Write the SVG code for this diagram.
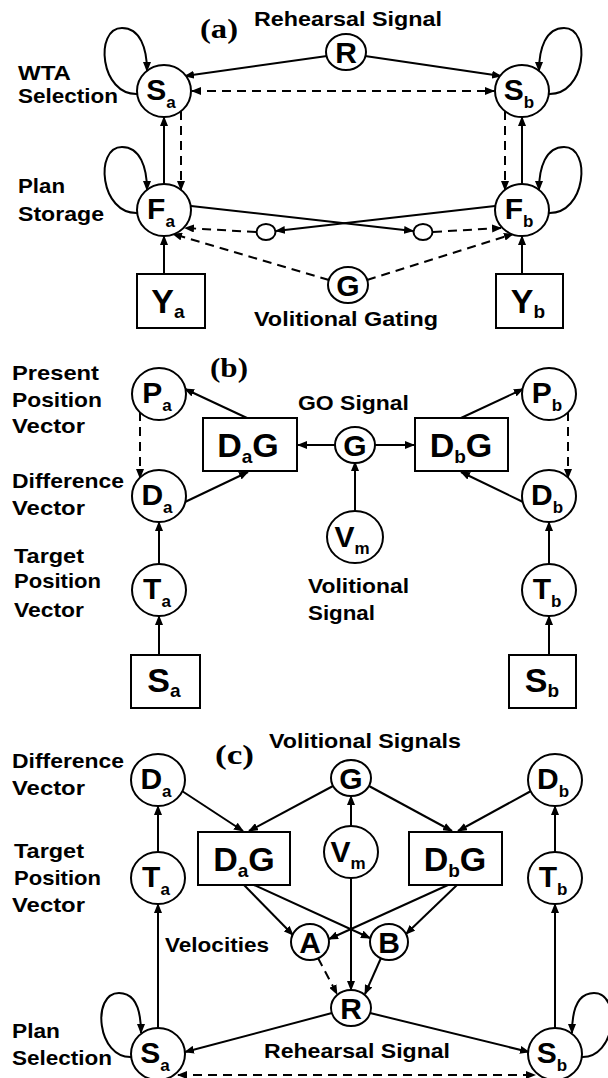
<svg xmlns="http://www.w3.org/2000/svg" width="608" height="1078" viewBox="0 0 608 1078">
<defs>
<style>
.n{fill:#fff;stroke:#000;stroke-width:2}
.c{fill:none;stroke:#000;stroke-width:2}
.d{stroke-dasharray:9,6}
.e{marker-end:url(#ah)}
.b{marker-start:url(#ah);marker-end:url(#ah)}
text{font-family:"Liberation Sans",Arial,sans-serif;font-weight:bold;fill:#000}
.lb{font-size:21px}
.nt{font-size:30px;text-anchor:middle}
.bt{font-size:34px;text-anchor:middle}
.sb{font-size:17px}
.sb2{font-size:19px}
.pl{font-family:"Liberation Serif","Times New Roman",serif;font-size:28px}
</style>
<marker id="ah" viewBox="0 0 10 8" refX="9" refY="4" markerUnits="userSpaceOnUse" markerWidth="10" markerHeight="8" orient="auto-start-reverse"><path d="M0,0 L10,4 L0,8 z" fill="#000"/></marker>
</defs>
<rect width="608" height="1078" fill="#fff"/>

<g id="labels">
<text class="pl" x="200" y="38" textLength="38" lengthAdjust="spacingAndGlyphs">(a)</text>
<text class="lb" x="254" y="26" textLength="188" lengthAdjust="spacingAndGlyphs">Rehearsal Signal</text>
<text class="lb" x="18" y="80" textLength="53" lengthAdjust="spacingAndGlyphs">WTA</text>
<text class="lb" x="18" y="103" textLength="100" lengthAdjust="spacingAndGlyphs">Selection</text>
<text class="lb" x="18" y="193" textLength="47" lengthAdjust="spacingAndGlyphs">Plan</text>
<text class="lb" x="18" y="221" textLength="86" lengthAdjust="spacingAndGlyphs">Storage</text>
<text class="lb" x="254" y="326" textLength="184" lengthAdjust="spacingAndGlyphs">Volitional Gating</text>
<text class="pl" x="210" y="377" textLength="38" lengthAdjust="spacingAndGlyphs">(b)</text>
<text class="lb" x="12" y="380" textLength="87" lengthAdjust="spacingAndGlyphs">Present</text>
<text class="lb" x="12" y="407" textLength="90" lengthAdjust="spacingAndGlyphs">Position</text>
<text class="lb" x="12" y="433" textLength="73" lengthAdjust="spacingAndGlyphs">Vector</text>
<text class="lb" x="12" y="488" textLength="112" lengthAdjust="spacingAndGlyphs">Difference</text>
<text class="lb" x="12" y="515" textLength="73" lengthAdjust="spacingAndGlyphs">Vector</text>
<text class="lb" x="14" y="563" textLength="70" lengthAdjust="spacingAndGlyphs">Target</text>
<text class="lb" x="14" y="588" textLength="87" lengthAdjust="spacingAndGlyphs">Position</text>
<text class="lb" x="14" y="617" textLength="70" lengthAdjust="spacingAndGlyphs">Vector</text>
<text class="lb" x="298" y="410" textLength="111" lengthAdjust="spacingAndGlyphs">GO Signal</text>
<text class="lb" x="308" y="593" textLength="101" lengthAdjust="spacingAndGlyphs">Volitional</text>
<text class="lb" x="308" y="620" textLength="67" lengthAdjust="spacingAndGlyphs">Signal</text>
<text class="pl" x="215" y="764" textLength="39" lengthAdjust="spacingAndGlyphs">(c)</text>
<text class="lb" x="269" y="748" textLength="192" lengthAdjust="spacingAndGlyphs">Volitional Signals</text>
<text class="lb" x="12" y="768" textLength="112" lengthAdjust="spacingAndGlyphs">Difference</text>
<text class="lb" x="12" y="795" textLength="73" lengthAdjust="spacingAndGlyphs">Vector</text>
<text class="lb" x="14" y="858" textLength="70" lengthAdjust="spacingAndGlyphs">Target</text>
<text class="lb" x="14" y="885" textLength="87" lengthAdjust="spacingAndGlyphs">Position</text>
<text class="lb" x="12" y="912" textLength="73" lengthAdjust="spacingAndGlyphs">Vector</text>
<text class="lb" x="165" y="952" textLength="104" lengthAdjust="spacingAndGlyphs">Velocities</text>
<text class="lb" x="12" y="1038" textLength="48" lengthAdjust="spacingAndGlyphs">Plan</text>
<text class="lb" x="12" y="1065" textLength="100" lengthAdjust="spacingAndGlyphs">Selection</text>
<text class="lb" x="264" y="1058" textLength="186" lengthAdjust="spacingAndGlyphs">Rehearsal Signal</text>
</g>

<g id="connectors" class="c">
<path class="c e" d="M138,94 C100,96 94,28 122,28 C140,28 147,48 147,71"/>
<path class="c e" d="M548,94 C586,96 592,28 564,28 C546,28 539,48 539,71"/>
<path class="c e" d="M327,56 L185,76"/>
<path class="c e" d="M365,56 L501,76"/>
<path class="c d b" d="M192,91 L494,91"/>
<path class="c e" d="M164,184 L164,117"/>
<path class="c d e" d="M181,111 L181,190"/>
<path class="c e" d="M522,184 L522,117"/>
<path class="c d e" d="M505,111 L505,190"/>
<path class="c e" d="M138,213 C100,215 94,147 122,147 C140,147 147,167 147,190"/>
<path class="c e" d="M548,213 C586,215 592,147 564,147 C546,147 539,167 539,190"/>
<path class="c e" d="M191,206 L413,231"/>
<path class="c e" d="M495,206 L276,231"/>
<path class="c d e" d="M256,232 L185,228"/>
<path class="c d e" d="M433,232 L501,228"/>
<path class="c d e" d="M329,280 L173,234"/>
<path class="c d e" d="M367,280 L513,234"/>
<path class="c e" d="M164,274 L164,236"/>
<path class="c e" d="M522,274 L522,236"/>
<path class="c e" d="M247,418 L185,389"/>
<path class="c e" d="M185,502 L248,472"/>
<path class="c e" d="M335,445 L298,445"/>
<path class="c e" d="M375,445 L414,445"/>
<path class="c e" d="M461,418 L523,389"/>
<path class="c e" d="M523,502 L461,472"/>
<path class="c d e" d="M140,412 L140,478"/>
<path class="c d e" d="M568,412 L568,478"/>
<path class="c e" d="M355,511 L355,462"/>
<path class="c e" d="M159,564 L159,522"/>
<path class="c e" d="M159,655 L159,616"/>
<path class="c e" d="M549,564 L549,522"/>
<path class="c e" d="M549,655 L549,616"/>
<path class="c e" d="M158,852 L158,806"/>
<path class="c e" d="M158,1028 L158,904"/>
<path class="c e" d="M555,852 L555,806"/>
<path class="c e" d="M555,1028 L555,904"/>
<path class="c e" d="M182,791 L243,831"/>
<path class="c e" d="M333,786 L249,831"/>
<path class="c e" d="M369,786 L452,831"/>
<path class="c e" d="M531,791 L458,831"/>
<path class="c e" d="M351,827 L351,796"/>
<path class="c e" d="M351,877 L351,990"/>
<path class="c e" d="M244,885 L293,935"/>
<path class="c e" d="M254,885 L370,938"/>
<path class="c e" d="M448,885 L329,939"/>
<path class="c e" d="M457,885 L406,934"/>
<path class="c d e" d="M318,958 L337,994"/>
<path class="c e" d="M381,958 L365,994"/>
<path class="c e" d="M332,1013 L185,1052"/>
<path class="c e" d="M370,1013 L529,1052"/>
<path class="c d b" d="M178,1075 L535,1075"/>
<path class="c e" d="M132,1057 C97,1059 91,993 119,993 C136,993 141,1010 141,1033"/>
<path class="c e" d="M581,1057 C616,1059 622,993 594,993 C577,993 572,1010 572,1033"/>
</g>

<g id="a-R"><ellipse class="n" cx="346" cy="52" rx="20" ry="18"/><text class="nt" x="346" y="63">R</text></g>
<g id="a-Sa"><ellipse class="n" cx="164" cy="91" rx="27" ry="26"/><text class="nt" x="161" y="100">S<tspan class="sb" dy="8">a</tspan></text></g>
<g id="a-Sb"><ellipse class="n" cx="522" cy="91" rx="27" ry="26"/><text class="nt" x="519" y="100">S<tspan class="sb" dy="8">b</tspan></text></g>
<g id="a-Fa"><ellipse class="n" cx="164" cy="210" rx="27" ry="26"/><text class="nt" x="161" y="219">F<tspan class="sb" dy="8">a</tspan></text></g>
<g id="a-Fb"><ellipse class="n" cx="522" cy="210" rx="27" ry="26"/><text class="nt" x="519" y="219">F<tspan class="sb" dy="8">b</tspan></text></g>
<g id="a-ia"><ellipse class="n" cx="266" cy="232" rx="9.5" ry="8"/></g>
<g id="a-ib"><ellipse class="n" cx="423" cy="232" rx="9.5" ry="8"/></g>
<g id="a-G"><ellipse class="n" cx="348" cy="285" rx="20" ry="18"/><text class="nt" x="348" y="296">G</text></g>
<g id="a-Ya"><rect class="n" x="137" y="274" width="68" height="54"/><text class="bt" x="168" y="313">Y<tspan class="sb2" dy="5">a</tspan></text></g>
<g id="a-Yb"><rect class="n" x="496" y="274" width="67" height="54"/><text class="bt" x="528" y="313">Y<tspan class="sb2" dy="5">b</tspan></text></g>

<g id="b-Pa"><ellipse class="n" cx="159" cy="394" rx="27" ry="26"/><text class="nt" x="157" y="403">P<tspan class="sb" dy="8">a</tspan></text></g>
<g id="b-Pb"><ellipse class="n" cx="549" cy="394" rx="27" ry="26"/><text class="nt" x="547" y="403">P<tspan class="sb" dy="8">b</tspan></text></g>
<g id="b-Da"><ellipse class="n" cx="159" cy="496" rx="27" ry="26"/><text class="nt" x="157" y="505">D<tspan class="sb" dy="8">a</tspan></text></g>
<g id="b-Db"><ellipse class="n" cx="549" cy="496" rx="27" ry="26"/><text class="nt" x="547" y="505">D<tspan class="sb" dy="8">b</tspan></text></g>
<g id="b-Ta"><ellipse class="n" cx="159" cy="590" rx="27" ry="26"/><text class="nt" x="157" y="599">T<tspan class="sb" dy="8">a</tspan></text></g>
<g id="b-Tb"><ellipse class="n" cx="549" cy="590" rx="27" ry="26"/><text class="nt" x="547" y="599">T<tspan class="sb" dy="8">b</tspan></text></g>
<g id="b-DaG"><rect class="n" x="203" y="418" width="94" height="53"/><text class="bt" x="248" y="457">D<tspan class="sb2" dy="6">a</tspan><tspan dy="-6">G</tspan></text></g>
<g id="b-DbG"><rect class="n" x="415" y="418" width="93" height="53"/><text class="bt" x="461" y="457">D<tspan class="sb2" dy="6">b</tspan><tspan dy="-6">G</tspan></text></g>
<g id="b-G"><ellipse class="n" cx="355" cy="445" rx="20" ry="18"/><text class="nt" x="355" y="456">G</text></g>
<g id="b-Vm"><ellipse class="n" cx="355" cy="537" rx="28" ry="26"/><text class="nt" x="352" y="547">V<tspan class="sb" dy="7">m</tspan></text></g>
<g id="b-Sa"><rect class="n" x="131" y="655" width="69" height="53"/><text class="bt" x="164" y="692">S<tspan class="sb2" dy="5">a</tspan></text></g>
<g id="b-Sb"><rect class="n" x="509" y="655" width="67" height="53"/><text class="bt" x="542" y="692">S<tspan class="sb2" dy="5">b</tspan></text></g>

<g id="c-Da"><ellipse class="n" cx="158" cy="780" rx="27" ry="26"/><text class="nt" x="156" y="789">D<tspan class="sb" dy="8">a</tspan></text></g>
<g id="c-Db"><ellipse class="n" cx="555" cy="780" rx="27" ry="26"/><text class="nt" x="553" y="789">D<tspan class="sb" dy="8">b</tspan></text></g>
<g id="c-G"><ellipse class="n" cx="351" cy="778" rx="20" ry="18"/><text class="nt" x="351" y="789">G</text></g>
<g id="c-DaG"><rect class="n" x="198" y="832" width="92" height="53"/><text class="bt" x="244" y="871">D<tspan class="sb2" dy="6">a</tspan><tspan dy="-6">G</tspan></text></g>
<g id="c-DbG"><rect class="n" x="409" y="832" width="93" height="53"/><text class="bt" x="455" y="871">D<tspan class="sb2" dy="6">b</tspan><tspan dy="-6">G</tspan></text></g>
<g id="c-Vm"><ellipse class="n" cx="351" cy="852" rx="27" ry="26"/><text class="nt" x="348" y="862">V<tspan class="sb" dy="7">m</tspan></text></g>
<g id="c-Ta"><ellipse class="n" cx="158" cy="878" rx="27" ry="26"/><text class="nt" x="156" y="887">T<tspan class="sb" dy="8">a</tspan></text></g>
<g id="c-Tb"><ellipse class="n" cx="555" cy="878" rx="27" ry="26"/><text class="nt" x="553" y="887">T<tspan class="sb" dy="8">b</tspan></text></g>
<g id="c-A"><ellipse class="n" cx="310" cy="942" rx="19" ry="18"/><text class="nt" x="310" y="953">A</text></g>
<g id="c-B"><ellipse class="n" cx="389" cy="942" rx="19" ry="18"/><text class="nt" x="389" y="953">B</text></g>
<g id="c-R"><ellipse class="n" cx="351" cy="1008" rx="20" ry="18"/><text class="nt" x="351" y="1019">R</text></g>
<g id="c-Sa"><ellipse class="n" cx="158" cy="1054" rx="27" ry="26"/><text class="nt" x="155" y="1063">S<tspan class="sb" dy="8">a</tspan></text></g>
<g id="c-Sb"><ellipse class="n" cx="555" cy="1054" rx="27" ry="26"/><text class="nt" x="552" y="1063">S<tspan class="sb" dy="8">b</tspan></text></g>
</svg>
